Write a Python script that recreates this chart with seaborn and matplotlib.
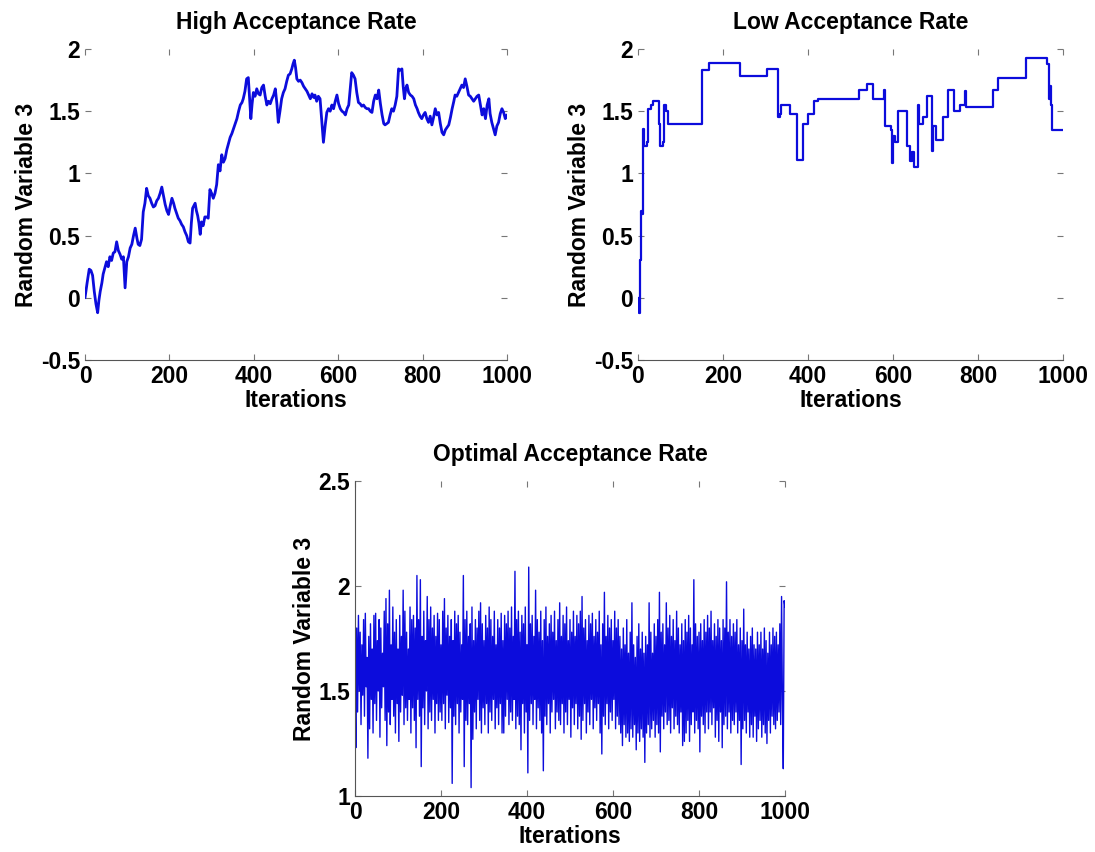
import numpy as np
import matplotlib
matplotlib.use("Agg")
import matplotlib.pyplot as plt
import seaborn as sns

# ---- High acceptance rate trace ----
hi_iter = [0, 5, 10, 14, 18, 22, 26, 30, 33, 36,
           40, 43, 47, 51, 55, 59, 63, 67, 71, 75,
           79, 83, 87, 91, 95, 99, 103, 107, 111, 115,
           119, 123, 126, 130, 134, 138, 142, 146, 150, 154,
           158, 162, 166, 170, 174, 178, 182, 186, 190, 194,
           198, 202, 206, 210, 213, 217, 221, 225, 229, 233,
           237, 241, 245, 249, 252, 255, 258, 261, 264, 267,
           270, 273, 276, 280, 284, 288, 292, 296, 300, 304,
           308, 312, 316, 320, 324, 328, 332, 336, 340, 344,
           348, 352, 356, 360, 364, 368, 372, 375, 379, 383,
           387, 390, 393, 396, 399, 403, 407, 411, 415, 419,
           423, 427, 431, 435, 439, 443, 447, 451, 455, 458,
           462, 466, 470, 474, 478, 482, 486, 490, 493, 496,
           499, 502, 506, 510, 514, 518, 522, 526, 530, 534,
           538, 542, 545, 549, 553, 557, 561, 565, 569, 573,
           577, 581, 585, 589, 593, 597, 601, 605, 609, 613,
           617, 621, 625, 629, 632, 636, 640, 644, 648, 652,
           656, 660, 664, 668, 672, 676, 680, 684, 688, 692,
           696, 700, 704, 708, 711, 715, 719, 723, 727, 731,
           735, 739, 743, 747, 751, 754, 757, 760, 763, 767,
           771, 775, 779, 783, 787, 790, 794, 798, 802, 806,
           810, 814, 818, 822, 826, 830, 834, 838, 842, 846,
           850, 854, 858, 862, 866, 870, 874, 877, 881, 885,
           889, 893, 897, 901, 905, 909, 913, 917, 921, 925,
           929, 933, 937, 941, 945, 949, 953, 957, 960, 964,
           968, 972, 976, 980, 984, 988, 992, 996, 1000]
hi_value = [0.0, 0.12, 0.23, 0.22, 0.18, 0.05, -0.05, -0.12, -0.02, 0.05,
            0.12, 0.19, 0.24, 0.29, 0.25, 0.33, 0.30, 0.36, 0.37, 0.45,
            0.38, 0.35, 0.31, 0.33, 0.08, 0.29, 0.33, 0.40, 0.43, 0.50,
            0.56, 0.48, 0.43, 0.42, 0.47, 0.69, 0.76, 0.88, 0.82, 0.80,
            0.76, 0.73, 0.74, 0.78, 0.80, 0.84, 0.89, 0.82, 0.75, 0.70,
            0.67, 0.74, 0.80, 0.76, 0.72, 0.68, 0.64, 0.62, 0.59, 0.57,
            0.53, 0.50, 0.45, 0.44, 0.60, 0.72, 0.74, 0.76, 0.70, 0.66,
            0.60, 0.51, 0.61, 0.58, 0.65, 0.65, 0.64, 0.87, 0.84, 0.80,
            0.84, 0.91, 1.07, 1.02, 1.15, 1.09, 1.12, 1.19, 1.24, 1.29,
            1.32, 1.36, 1.40, 1.44, 1.50, 1.55, 1.57, 1.60, 1.66, 1.76,
            1.77, 1.60, 1.44, 1.56, 1.65, 1.62, 1.68, 1.64, 1.63, 1.69,
            1.71, 1.62, 1.55, 1.58, 1.56, 1.60, 1.63, 1.68, 1.55, 1.41,
            1.50, 1.60, 1.65, 1.68, 1.74, 1.79, 1.80, 1.84, 1.88, 1.91,
            1.85, 1.76, 1.74, 1.75, 1.73, 1.70, 1.68, 1.66, 1.63, 1.60,
            1.64, 1.61, 1.63, 1.58, 1.62, 1.60, 1.42, 1.25, 1.38, 1.49,
            1.52, 1.50, 1.55, 1.52, 1.58, 1.63, 1.56, 1.52, 1.50, 1.49,
            1.47, 1.52, 1.55, 1.70, 1.81, 1.79, 1.76, 1.65, 1.57, 1.56,
            1.54, 1.55, 1.53, 1.52, 1.52, 1.50, 1.49, 1.58, 1.63, 1.60,
            1.67, 1.56, 1.47, 1.40, 1.39, 1.40, 1.41, 1.47, 1.52, 1.50,
            1.55, 1.62, 1.84, 1.83, 1.84, 1.70, 1.60, 1.68, 1.71, 1.65,
            1.63, 1.62, 1.60, 1.55, 1.52, 1.49, 1.46, 1.44, 1.47, 1.49,
            1.44, 1.41, 1.46, 1.39, 1.45, 1.52, 1.47, 1.49, 1.40, 1.33,
            1.31, 1.35, 1.37, 1.39, 1.45, 1.52, 1.58, 1.63, 1.62, 1.65,
            1.68, 1.71, 1.69, 1.76, 1.70, 1.63, 1.62, 1.60, 1.58, 1.60,
            1.62, 1.63, 1.55, 1.47, 1.52, 1.44, 1.55, 1.60, 1.48, 1.41,
            1.36, 1.31, 1.38, 1.41, 1.48, 1.52, 1.49, 1.44, 1.47]

# ---- Low acceptance rate trace: iteration where a new value is accepted ----
lo_iter = [0, 2, 4, 6, 10, 12, 15, 20, 24, 30,
           35, 50, 52, 58, 61, 66, 70, 150, 168, 240,
           304, 330, 333, 336, 357, 374, 389, 400, 413, 424,
           520, 539, 554, 579, 582, 596, 598, 601, 604, 611,
           633, 640, 645, 650, 658, 662, 670, 681, 691, 694,
           700, 717, 730, 744, 757, 769, 772, 835, 848, 912,
           962, 966, 969, 972, 974, 1000]
lo_value = [0.0, -0.12, 0.3, 0.7, 0.67, 1.36, 1.22, 1.25, 1.52, 1.55,
            1.58, 1.4, 1.22, 1.25, 1.55, 1.5, 1.4, 1.83, 1.89, 1.78,
            1.84, 1.45, 1.48, 1.55, 1.48, 1.11, 1.4, 1.48, 1.58, 1.6,
            1.67, 1.72, 1.6, 1.67, 1.38, 1.35, 1.08, 1.3, 1.25, 1.5,
            1.22, 1.1, 1.17, 1.05, 1.55, 1.4, 1.45, 1.62, 1.18, 1.38,
            1.27, 1.45, 1.67, 1.5, 1.55, 1.66, 1.53, 1.67, 1.77, 1.93,
            1.88, 1.6, 1.7, 1.55, 1.35, 1.35]

# ---- Optimal acceptance rate trace, every 2nd iteration (one row = 20 iterations) ----
opt_step = 2
opt_value = [
    1.55, 1.23, 1.80, 1.40, 1.86, 1.50, 1.78, 1.34, 1.72, 1.48,
    1.84, 1.38, 1.87, 1.52, 1.66, 1.18, 1.76, 1.32, 1.82, 1.46,
    1.70, 1.30, 1.86, 1.44, 1.87, 1.36, 1.74, 1.50, 1.84, 1.28,
    1.80, 1.42, 1.68, 1.52, 1.88, 1.36, 1.94, 1.24, 1.82, 1.40,
    1.98, 1.34, 1.72, 1.46, 1.90, 1.38, 1.78, 1.30, 1.84, 1.44,
    1.70, 1.26, 1.86, 1.40, 1.76, 1.48, 1.98, 1.34, 1.88, 1.42,
    1.78, 1.36, 1.70, 1.46, 1.90, 1.30, 1.84, 1.42, 1.86, 1.36,
    1.80, 1.23, 2.05, 1.46, 1.84, 1.38, 2.03, 1.14, 1.76, 1.42,
    1.88, 1.34, 1.74, 1.50, 1.95, 1.32, 1.84, 1.40, 1.90, 1.36,
    1.80, 1.46, 1.86, 1.30, 1.76, 1.44, 1.87, 1.36, 1.84, 1.40,
    1.72, 1.36, 1.88, 1.44, 1.94, 1.32, 1.80, 1.48, 1.86, 1.35,
    1.76, 1.42, 1.84, 1.06, 1.74, 1.38, 1.88, 1.34, 1.82, 1.44,
    1.86, 1.30, 1.78, 1.40, 1.72, 1.46, 2.05, 1.14, 1.84, 1.36,
    1.88, 1.34, 1.76, 1.44, 1.82, 1.04, 1.90, 1.27, 1.74, 1.40,
    1.84, 1.32, 1.80, 1.46, 1.88, 1.36, 1.92, 1.30, 1.82, 1.42,
    1.74, 1.34, 1.86, 1.44, 1.80, 1.30, 1.90, 1.40, 1.84, 1.36,
    1.76, 1.46, 1.88, 1.32, 1.72, 1.42, 1.84, 1.34, 1.80, 1.44,
    1.87, 1.30, 1.74, 1.30, 1.86, 1.38, 1.82, 1.46, 1.88, 1.34,
    1.80, 1.40, 1.90, 1.36, 1.76, 1.46, 2.07, 1.32, 1.84, 1.38,
    1.88, 1.34, 1.78, 1.22, 1.86, 1.44, 1.82, 1.30, 1.90, 1.40,
    1.72, 1.11, 2.09, 1.36, 1.82, 1.44, 1.86, 1.34, 1.76, 1.46,
    1.98, 1.32, 1.84, 1.42, 1.78, 1.36, 1.88, 1.30, 1.74, 1.12,
    1.84, 1.38, 1.90, 1.34, 1.76, 1.44, 1.82, 1.30, 1.86, 1.40,
    1.78, 1.46, 1.88, 1.32, 1.74, 1.40, 1.84, 1.36, 1.92, 1.34,
    1.76, 1.44, 1.86, 1.30, 1.82, 1.40, 1.90, 1.34, 1.74, 1.46,
    1.84, 1.28, 1.78, 1.42, 1.88, 1.34, 1.76, 1.44, 1.86, 1.32,
    1.82, 1.38, 1.88, 1.27, 1.95, 1.36, 1.80, 1.44, 1.84, 1.30,
    1.74, 1.40, 1.86, 1.34, 1.82, 1.46, 1.87, 1.32, 1.76, 1.42,
    1.84, 1.36, 1.78, 1.44, 1.88, 1.30, 1.72, 1.20, 1.82, 1.38,
    1.97, 1.34, 1.76, 1.44, 1.86, 1.32, 1.80, 1.40, 1.84, 1.36,
    1.74, 1.46, 1.88, 1.32, 1.80, 1.38, 1.84, 1.34, 1.76, 1.30,
    1.70, 1.24, 1.80, 1.34, 1.72, 1.28, 1.84, 1.30, 1.68, 1.26,
    1.78, 1.32, 1.92, 1.28, 1.72, 1.34, 1.66, 1.22, 1.76, 1.30,
    1.82, 1.26, 1.70, 1.32, 1.78, 1.28, 1.68, 1.16, 1.76, 1.30,
    1.72, 1.34, 1.92, 1.28, 1.78, 1.32, 1.68, 1.36, 1.82, 1.28,
    1.76, 1.34, 1.84, 1.30, 1.97, 1.21, 1.78, 1.38, 1.82, 1.32,
    1.72, 1.40, 1.92, 1.34, 1.80, 1.36, 1.86, 1.30, 1.76, 1.42,
    1.84, 1.32, 1.74, 1.38, 1.88, 1.34, 1.80, 1.30, 1.72, 1.40,
    1.82, 1.24, 1.74, 1.26, 1.84, 1.30, 1.78, 1.36, 1.86, 1.26,
    1.80, 1.34, 1.72, 1.40, 2.03, 1.30, 1.82, 1.36, 1.76, 1.32,
    1.78, 1.21, 1.82, 1.38, 1.74, 1.34, 1.84, 1.30, 1.78, 1.40,
    1.86, 1.32, 1.80, 1.40, 1.88, 1.34, 1.74, 1.42, 1.82, 1.28,
    1.76, 1.36, 1.84, 1.26, 1.80, 1.40, 1.74, 1.23, 1.84, 1.34,
    1.80, 1.38, 2.02, 1.32, 1.78, 1.40, 1.84, 1.30, 1.76, 1.36,
    1.82, 1.34, 1.78, 1.40, 1.84, 1.30, 1.72, 1.36, 1.80, 1.15,
    1.74, 1.32, 1.89, 1.36, 1.72, 1.30, 1.78, 1.40, 1.70, 1.28,
    1.76, 1.34, 1.80, 1.28, 1.72, 1.38, 1.70, 1.26, 1.78, 1.32,
    1.72, 1.36, 1.78, 1.28, 1.70, 1.34, 1.80, 1.30, 1.74, 1.25,
    1.68, 1.36, 1.78, 1.30, 1.72, 1.38, 1.80, 1.34, 1.76, 1.32,
    1.78, 1.36, 1.72, 1.40, 1.82, 1.34, 1.95, 1.46, 1.13, 1.93,
    1.90]
opt_iter = np.arange(len(opt_value)) * opt_step

x_ticks = [0, 200, 400, 600, 800, 1000]
top_yticks = [-0.5, 0, 0.5, 1, 1.5, 2]
top_ylabels = ["-0.5", "0", "0.5", "1", "1.5", "2"]
bot_yticks = [1, 1.5, 2, 2.5]
bot_ylabels = ["1", "1.5", "2", "2.5"]

sns.set_style("ticks")
plt.rcParams["font.family"] = ["Liberation Sans", "DejaVu Sans"]
plt.rcParams["font.weight"] = "bold"
plt.rcParams["axes.labelweight"] = "bold"
plt.rcParams["axes.titleweight"] = "bold"
plt.rcParams["text.color"] = "black"
plt.rcParams["axes.labelcolor"] = "black"

line_color = "#0c0cdc"
font_size = 16.5
W, H = 1095, 852


def px_axes(fig, left, right, top, bottom):
    return fig.add_axes([left / W, 1 - bottom / H, (right - left) / W, (bottom - top) / H])


def style(ax, title, yticks, ylabels, show_left):
    ax.set_xlim(0, 1000)
    ax.set_ylim(yticks[0], yticks[-1])
    ax.set_xticks(x_ticks)
    ax.set_xticklabels([str(t) for t in x_ticks])
    ax.set_yticks(yticks)
    ax.set_yticklabels(ylabels)
    ax.tick_params(direction="in", top=True, right=True, length=4, width=0.8,
                   color="#777777", labelcolor="black", labelsize=font_size, pad=3.5)
    for side in ["top", "right"]:
        ax.spines[side].set_visible(False)
    ax.spines["left"].set_visible(show_left)
    ax.spines["bottom"].set_color("#555555")
    ax.spines["left"].set_color("#555555")
    ax.set_title(title, fontsize=font_size, fontweight="bold", pad=14.5, color="black")
    ax.set_xlabel("Iterations", fontsize=font_size, labelpad=1)
    ax.set_ylabel("Random Variable 3", fontsize=font_size, labelpad=2)
    ax.set_facecolor("white")


fig = plt.figure(figsize=(W / 100, H / 100), dpi=100)
fig.patch.set_facecolor("white")

ax_hi = px_axes(fig, 85, 507, 49, 360)
sns.lineplot(x=hi_iter, y=hi_value, ax=ax_hi, color=line_color, linewidth=2.0)
style(ax_hi, "High Acceptance Rate", top_yticks, top_ylabels, False)

ax_lo = px_axes(fig, 638, 1063, 49, 360)
sns.lineplot(x=lo_iter, y=lo_value, ax=ax_lo, color=line_color, linewidth=1.6,
             drawstyle="steps-post")
style(ax_lo, "Low Acceptance Rate", top_yticks, top_ylabels, False)

ax_opt = px_axes(fig, 355, 785, 481, 796)
sns.lineplot(x=opt_iter, y=opt_value, ax=ax_opt, color=line_color, linewidth=1.0)
style(ax_opt, "Optimal Acceptance Rate", bot_yticks, bot_ylabels, True)

fig.savefig("out.png", dpi=100, facecolor="white")
